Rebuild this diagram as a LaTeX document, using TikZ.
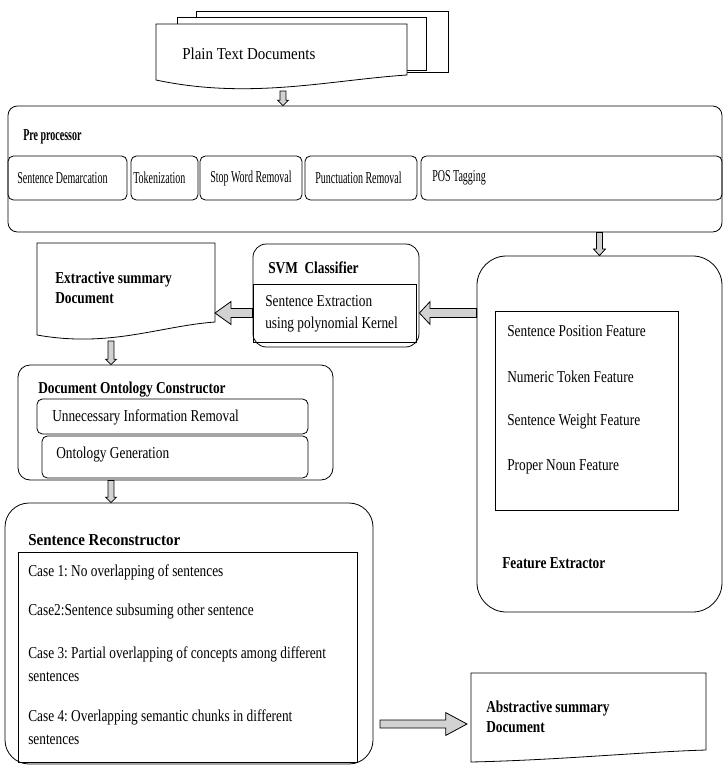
\documentclass[tikz,border=0pt]{standalone}
\usepackage{fontspec}
\setmainfont[FakeStretch=0.8]{Liberation Serif}
\newfontfamily\narrowfont[FakeStretch=0.6]{Liberation Serif}
\newfontfamily\widefont[FakeStretch=0.9]{Liberation Serif}
\usepackage{tikz}
\usetikzlibrary{calc,fit,positioning}
\frenchspacing

\newcommand{\fs}{\fontsize{12.5}{15}\selectfont}
% hollow block arrow: from, to, shaft half width, head half width, head length
\newcommand{\blockarrow}[5]{%
  \coordinate (ba-h) at ($(#2)!#5!(#1)$);
  \draw[blockarr] ($(#1)!#3!90:(#2)$) -- ($(ba-h)!#3!90:(#2)$) -- ($(ba-h)!#4!90:(#2)$) -- (#2)
    -- ($(ba-h)!#4!-90:(#2)$) -- ($(ba-h)!#3!-90:(#2)$) -- ($(#1)!#3!-90:(#2)$) -- cycle;
}

\begin{document}
\begin{tikzpicture}[
  x=0.75pt, y=-0.75pt,
  every node/.style={font=\fs, inner sep=0pt},
  box/.style={draw, line width=0.6pt, inner sep=0pt},
  page/.style={draw, line width=0.6pt, fill=white},
  blockarr/.style={draw, line width=0.6pt, fill=gray!35},
  lbl/.style={anchor=west, align=left, inner sep=0pt},
  nlbl/.style={lbl, font=\narrowfont\fs},
  wlbl/.style={lbl, font=\widefont\fs},
  ttl/.style={lbl, font=\bfseries\fs},
]
\useasboundingbox (0,0) rectangle (725,765);

% Plain text documents (stack of pages)
\draw[page] (196,11) rectangle (448,72);
\draw[page] (177,17) rectangle (426,70);
\draw[page] (156,24) -- (407,24) -- (407,75) .. controls (330,80) and (250,100) .. (156,80) -- cycle;
\node[wlbl] (docs) at (182,54) {Plain Text Documents};
\coordinate (docs-out) at (283,91);

% Pre processor
\node[box, rounded corners=7pt, fit={(8,106) (722,232)}] (pre) {};
\node[ttl, font=\narrowfont\bfseries\fs] (pre-t) at (23,137) {Pre processor};
\foreach \a/\b/\n in {8/127/sd, 131/198/tk, 200/302/sw, 305/417/pr, 421/722/pos} {
  \node[box, rounded corners=4pt, fit={(\a,156) (\b,200)}] (\n) {};
}
\node[nlbl] at (17,178) {Sentence Demarcation};
\node[nlbl] at (133,178) {Tokenization};
\node[nlbl] at (210,178) {Stop Word Removal};
\node[nlbl] at (315,178) {Punctuation Removal};
\node[nlbl] at (432,178) {POS Tagging};

% Feature extractor
\node[box, rounded corners=22pt, fit={(477,256) (722,612)}] (fe) {};
\node[box, fit={(495,311) (678,510)}] (fe-in) {};
\foreach \t [count=\i from 0] in {Sentence Position Feature, Numeric Token Feature,
    Sentence Weight Feature, Proper Noun Feature} {
  \node[lbl] (feat\i) at (507,{331+45.3*\i}) {\t};
}
\node[ttl] (fe-t) at (502,563) {Feature Extractor};

% SVM classifier
\node[box, rounded corners=10pt, fit={(253,244) (419,347)}] (svm) {};
\node[box, fit={(253,284) (416,342)}] (svm-in) {};
\node[ttl] (svm-t) at (268,268) {SVM\ \ Classifier};
\node[lbl, font=\fontsize{12.5}{16.5}\selectfont] (svm-x) at (265,314)
  {Sentence Extraction\\using polynomial Kernel};

% Extractive summary document
\draw[page] (37,243) -- (215,243) -- (215,322) .. controls (160,326) and (110,348) .. (37,335) -- cycle;
\node[ttl, font=\bfseries\fontsize{12.5}{15}\selectfont] (ext) at (55,288) {Extractive summary\\Document};
\coordinate (ext-out) at (111,341);

% Document ontology constructor
\node[box, rounded corners=9pt, fit={(18,365) (333,480)}] (onto) {};
\node[ttl] (onto-t) at (38,390) {Document Ontology Constructor};
\node[box, rounded corners=4pt, fit={(37,399) (308,434)}] (uir) {};
\node[box, rounded corners=4pt, fit={(42,436) (308,478)}] (og) {};
\node[lbl] at (52,417) {Unnecessary Information Removal};
\node[lbl] at (56,455) {Ontology Generation};

% Sentence reconstructor
\node[box, rounded corners=18pt, fit={(5,503) (373,764)}] (sr) {};
\node[ttl, font=\widefont\bfseries\fs] (sr-t) at (28,540) {Sentence Reconstructor};
\node[box, fit={(18,552) (357,762)}] (sr-in) {};
\node[lbl] (c1) at (28,572) {Case 1: No overlapping of sentences};
\node[lbl] (c2) at (28,612) {Case2:Sentence subsuming other sentence};
\node[lbl, font=\fontsize{12.5}{17}\selectfont] (c3) at (28,664)
  {Case 3: Partial overlapping of concepts among different\\sentences};
\node[lbl, font=\fontsize{12.5}{17}\selectfont] (c4) at (28,727)
  {Case 4: Overlapping semantic chunks in different\\sentences};
\coordinate (sr-out) at (380,724);

% Abstractive summary document
\draw[page] (471,673) -- (706,673) -- (706,750) .. controls (640,752) and (560,760) .. (471,762) -- cycle;
\node[ttl] (abs) at (486,717) {Abstractive summary\\Document};
\coordinate (abs-in) at (467,724);

% Block arrows
\blockarrow{docs-out}{pre.north -| docs-out}{2.2pt}{4pt}{4pt}
\blockarrow{pre.south -| fe.north}{fe.north}{2.2pt}{4.5pt}{5pt}
\blockarrow{fe.west |- svm-in.east}{svm.east |- svm-in.east}{3.4pt}{8.6pt}{8pt}
\blockarrow{svm.west |- svm-in.west}{215,313}{3.4pt}{8.6pt}{12pt}
\blockarrow{ext-out}{onto.north -| ext-out}{2.2pt}{4pt}{4pt}
\blockarrow{onto.south -| ext-out}{sr.north -| ext-out}{2.2pt}{4pt}{4pt}
\blockarrow{sr-out}{abs-in}{3pt}{8.6pt}{16pt}
\end{tikzpicture}
\end{document}
